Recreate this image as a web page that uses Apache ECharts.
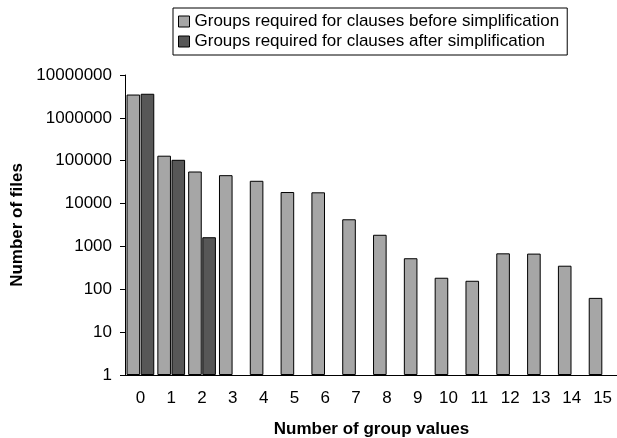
<!DOCTYPE html>
<html>
<head>
<meta charset="utf-8">
<script src="https://cdn.jsdelivr.net/npm/echarts@6/dist/echarts.min.js"></script>
<style>
html,body{margin:0;padding:0;background:#fff;}
#chart{width:617px;height:438px;}
</style>
</head>
<body>
<div id="chart"></div>
<script>
const categories = ['0','1','2','3','4','5','6','7','8','9','10','11','12','13','14','15'];
const beforeValues = [3500000, 131000, 56000, 46000, 34000, 18600, 18300, 4300, 1870, 530, 186, 158, 690, 680, 355, 63];
const afterValues = [3650000, 105000, 1640, null, null, null, null, null, null, null, null, null, null, null, null, null];
const seriesNames = ['Groups required for clauses before simplification', 'Groups required for clauses after simplification'];
const yTicks = [1, 10, 100, 1000, 10000, 100000, 1000000, 10000000];

const FONT = 'Liberation Sans, Arial, sans-serif';
const chart = echarts.init(document.getElementById('chart'), null, {renderer: 'canvas'});
chart.setOption({
  animation: false,
  backgroundColor: '#fff',
  textStyle: {fontFamily: FONT, color: '#000'},
  legend: {
    orient: 'vertical',
    left: 173, top: 8,
    padding: [5, 8, 5, 5],
    icon: 'rect',
    itemWidth: 11, itemHeight: 11, itemGap: 3,
    borderColor: '#000', borderWidth: 1, backgroundColor: '#fff',
    textStyle: {fontFamily: FONT, fontSize: 17, color: '#000', lineHeight: 17},
    itemStyle: {borderColor: '#000', borderWidth: 1},
    data: seriesNames
  },
  grid: {left: 125, top: 75, width: 493, bottom: 63, containLabel: false, outerBoundsMode: 'none'},
  xAxis: {
    type: 'category',
    data: categories,
    name: 'Number of group values',
    nameLocation: 'middle',
    nameGap: 46,
    nameTextStyle: {fontFamily: FONT, fontSize: 17, fontWeight: 'bold', color: '#000'},
    axisLine: {lineStyle: {color: '#000', width: 1}},
    axisTick: {length: 5, lineStyle: {color: '#000'}},
    axisLabel: {fontFamily: FONT, fontSize: 17, color: '#000', margin: 15, interval: 0},
    splitLine: {show: false}
  },
  yAxis: {
    type: 'log',
    logBase: 10,
    min: yTicks[0],
    max: yTicks[yTicks.length - 1],
    name: 'Number of files',
    nameLocation: 'middle',
    nameGap: 88,
    nameRotate: 90,
    nameTextStyle: {fontFamily: FONT, fontSize: 17, fontWeight: 'bold', color: '#000'},
    axisLine: {show: true, lineStyle: {color: '#000', width: 1}},
    axisTick: {show: true, length: 5, lineStyle: {color: '#000'}},
    axisLabel: {fontFamily: FONT, fontSize: 17, color: '#000', margin: 13,
      formatter: v => String(Math.round(v))},
    splitLine: {show: false}
  },
  series: [
    {
      name: seriesNames[0], type: 'bar', data: beforeValues,
      barCategoryGap: '10%', barGap: '4%',
      itemStyle: {color: '#A6A6A6', borderColor: '#000', borderWidth: 1}
    },
    {
      name: seriesNames[1], type: 'bar', data: afterValues,
      barCategoryGap: '10%', barGap: '4%',
      itemStyle: {color: '#575757', borderColor: '#000', borderWidth: 1}
    }
  ]
});
</script>
</body>
</html>
